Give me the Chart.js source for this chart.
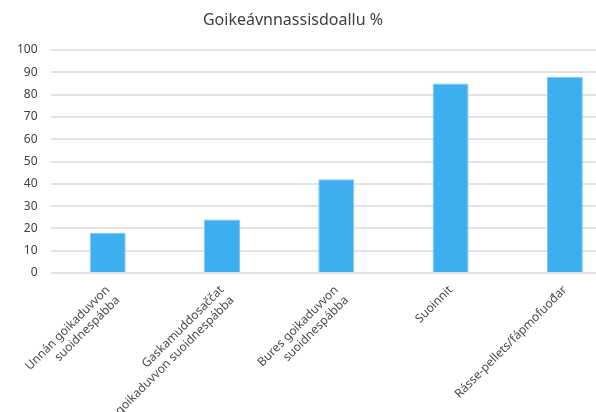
<!DOCTYPE html>
<html>
<head>
<meta charset="utf-8">
<script src="https://cdn.jsdelivr.net/npm/chart.js@4"></script>
<style>
  html, body { margin: 0; padding: 0; background: #fff; overflow: hidden; }
  #wrap { position: relative; width: 596px; height: 412px; overflow: hidden; }
  #title {
    position: absolute; left: 0; top: 8px; width: 586px; text-align: center;
    font: 16px "Noto Sans", sans-serif; line-height: 22px; color: #404040; z-index: 2;
  }
  #chartBox { position: absolute; left: 0; top: 0; width: 640px; height: 420px; }
</style>
</head>
<body>
<div id="wrap">
  <div id="title">Goikeávnnassisdoallu %</div>
  <div id="chartBox"><canvas id="hayChart" width="640" height="420"></canvas></div>
</div>
<script>
  // Categories (multi-line labels)
  const categories = [
    ['Unnán goikaduvvon', 'suoidnespábba'],
    ['Gaskamuddosaččat', 'goikaduvvon suoidnespábba'],
    ['Bures goikaduvvon', 'suoidnespábba'],
    'Suoinnit',
    'Rásse-pellets/fápmofuođar'
  ];
  // Share in percent
  const dryMatter = [18, 24, 42, 85, 88];
  const yMin = 0, yMax = 100, yStep = 10;

  const ctx = document.getElementById('hayChart').getContext('2d');
  new Chart(ctx, {
    type: 'bar',
    data: {
      labels: categories,
      datasets: [{
        data: dryMatter,
        backgroundColor: '#3daef0',
        borderColor: '#7cc8f5',
        borderWidth: 1,
        categoryPercentage: 1,
        barPercentage: 0.315
      }]
    },
    options: {
      responsive: false,
      animation: false,
      layout: { padding: { left: 4, right: 18, top: 50, bottom: 0 } },
      plugins: { legend: { display: false }, title: { display: false }, tooltip: { enabled: false } },
      scales: {
        x: {
          grid: { display: false },
          border: { display: false },
          ticks: {
            autoSkip: false,
            maxRotation: 45,
            minRotation: 45,
            padding: 2,
            color: '#4a4a4a',
            font: { family: 'Noto Sans', size: 12 }
          }
        },
        y: {
          min: yMin,
          max: yMax,
          grid: { color: '#e3e3e3', lineWidth: 2, drawTicks: false },
          border: { display: false },
          ticks: {
            stepSize: yStep,
            padding: 13,
            color: '#404040',
            font: { family: 'Noto Sans', size: 12 }
          }
        }
      }
    }
  });
</script>
</body>
</html>
